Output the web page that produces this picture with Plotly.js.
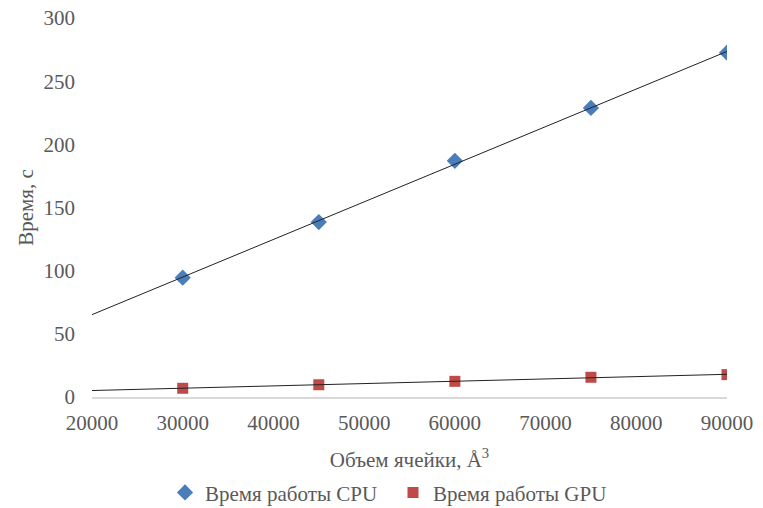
<!DOCTYPE html>
<html>
<head>
<meta charset="utf-8">
<script src="https://cdn.plot.ly/plotly-3.0.1.min.js"></script>
<style>html,body{margin:0;padding:0;background:#fff}#chart{width:763px;height:508px}</style>
</head>
<body>
<div id="chart"></div>
<script>
const volumes = [30000, 45000, 60000, 75000, 90000];
const cpuTimes = [94.4, 138.5, 187, 228.8, 272.5];
const gpuTimes = [6.9, 9.7, 12.4, 15.6, 17.7];
const seriesNames = ['Время работы CPU', 'Время работы GPU'];
const trendRange = [20000, 90000];

function linfit(xs, ys) {
  const n = xs.length;
  const mx = xs.reduce((a, b) => a + b, 0) / n;
  const my = ys.reduce((a, b) => a + b, 0) / n;
  let sxy = 0, sxx = 0;
  for (let i = 0; i < n; i++) { sxy += (xs[i] - mx) * (ys[i] - my); sxx += (xs[i] - mx) ** 2; }
  const b = sxy / sxx, a = my - b * mx;
  return trendRange.map(x => a + b * x);
}

const FAM = 'Liberation Serif, Times New Roman, serif';
const mkFont = () => ({family: FAM, color: '#595959', size: 21});

const traces = [
  {x: volumes, y: cpuTimes, name: seriesNames[0], mode: 'markers', type: 'scatter',
   marker: {symbol: 'diamond', size: 12.5, color: '#4a7ebb'}},
  {x: volumes, y: gpuTimes, name: seriesNames[1], mode: 'markers', type: 'scatter',
   marker: {symbol: 'square', size: 11, color: '#be4b48'}},
  {x: trendRange, y: linfit(volumes, cpuTimes), mode: 'lines', showlegend: false, hoverinfo: 'skip',
   line: {color: '#222', width: 1}},
  {x: trendRange, y: linfit(volumes, gpuTimes), mode: 'lines', showlegend: false, hoverinfo: 'skip',
   line: {color: '#222', width: 1}}
];

const layout = {
  width: 763, height: 508,
  margin: {l: 92, r: 36, t: 18, b: 111, autoexpand: false},
  paper_bgcolor: '#fff', plot_bgcolor: '#fff',
  font: mkFont(),
  showlegend: true,
  legend: {orientation: 'h', x: 165 / 763, xanchor: 'left', xref: 'container',
           y: 0.03, yanchor: 'middle', yref: 'container',
           entrywidth: 183, entrywidthmode: 'pixels',
           font: mkFont(), itemwidth: 30, tracegroupgap: 0},
  xaxis: {range: [20000, 90000], dtick: 10000, tick0: 20000, showgrid: false, zeroline: false,
          tickformat: 'd', automargin: false,
          showline: true, linecolor: '#d9d9d9', linewidth: 1.5, ticks: '', ticklabelstandoff: 6,
          title: {text: 'Объем ячейки, Å<sup>3</sup>', font: mkFont(), standoff: 18}, tickfont: mkFont()},
  yaxis: {range: [0, 300], dtick: 50, showgrid: false, zeroline: false, showline: false,
          automargin: false, ticks: '', ticklabelstandoff: 16,
          title: {text: 'Время, с', font: mkFont(), standoff: 4}, tickfont: mkFont()}
};

Plotly.newPlot('chart', traces, layout, {displayModeBar: false, staticPlot: true});
</script>
</body>
</html>
